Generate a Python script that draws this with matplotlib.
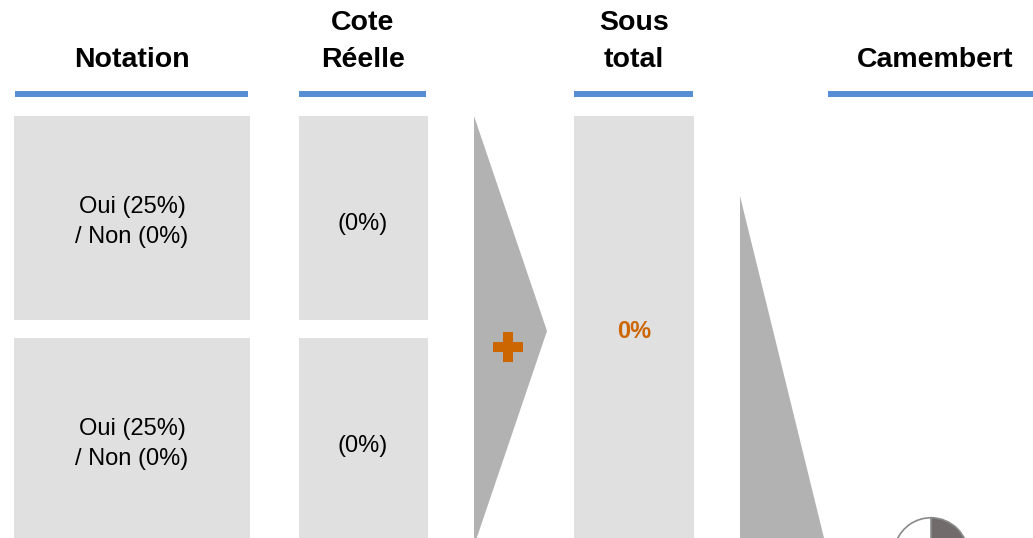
import matplotlib
matplotlib.use("Agg")
import matplotlib.pyplot as plt
from matplotlib.patches import Rectangle, Polygon

plt.rcParams['font.family'] = ['Liberation Sans', 'DejaVu Sans']

# ---- data ----
headers = [["Notation"], ["Cote", "Réelle"], ["Sous", "total"], ["Camembert"]]
notation_rows = [["Oui (25%)", "/ Non (0%)"], ["Oui (25%)", "/ Non (0%)"]]
cote_rows = ["(0%)", "(0%)"]
sous_total = "0%"
pie_values = [25, 75]
pie_colors = ["#716b6b", "#ffffff"]

# ---- layout (pixels) ----
W, H = 1033, 538
fig = plt.figure(figsize=(W / 100, H / 100), dpi=100)
ax = fig.add_axes([0, 0, 1, 1])
ax.set_xlim(0, W)
ax.set_ylim(H, 0)
ax.axis('off')

BOX = '#e0e0e0'
ARROW = '#b2b2b2'
BLUE = '#558ed5'
ORANGE = '#cc6600'

# header columns: (center x, line x0, line x1)
cols = [(132, 15, 248), (363, 299, 426), (634, 574, 693), (935, 828, 1033)]
for (cx, x0, x1), lines in zip(cols, headers):
    base = 67
    for i, ln in enumerate(reversed(lines)):
        ax.text(cx, base - 37 * i, ln, ha='center', va='baseline',
                fontsize=20.5, fontweight='bold', color='black')
    ax.plot([x0, x1], [94, 94], color=BLUE, lw=4.3, solid_capstyle='butt')

# boxes
row_y = [(116, 320), (338, 560)]
for (y0, y1) in row_y:
    ax.add_patch(Rectangle((14, y0), 236, y1 - y0, color=BOX, lw=0))
    ax.add_patch(Rectangle((299, y0), 129, y1 - y0, color=BOX, lw=0))
ax.add_patch(Rectangle((574, 116), 120, 460, color=BOX, lw=0))

# notation texts
for k, (l1, l2) in enumerate(notation_rows):
    off = 222 * k
    ax.text(132, 213 + off, l1, ha='center', va='baseline', fontsize=17)
    ax.text(132, 243 + off, l2, ha='center', va='baseline', fontsize=17)
for k, t in enumerate(cote_rows):
    ax.text(363, 230 + 222 * k, t, ha='center', va='baseline', fontsize=17)

ax.text(634, 338, sous_total, ha='center', va='baseline', fontsize=17,
        fontweight='bold', color=ORANGE)

# chevron arrow
ax.add_patch(Polygon([(474, 116), (547, 331), (474, 546)], closed=True,
                     color=ARROW, lw=0))
ax.plot([508], [347], marker='P', markersize=22, color=ORANGE, mew=0)

# second triangle
ax.add_patch(Polygon([(740, 196), (824, 538), (740, 538)], closed=True,
                     color=ARROW, lw=0))

# pie (partially below the figure edge)
cx, cy, r = 931, 555, 38
pax = fig.add_axes([(cx - r) / W, (H - cy - r) / H, 2 * r / W, 2 * r / H])
pax.pie(pie_values, colors=pie_colors, startangle=90, counterclock=False,
        radius=1, wedgeprops=dict(edgecolor='#8a8a8a', linewidth=1.2))
pax.set_xlim(-1.02, 1.02)
pax.set_ylim(-1.02, 1.02)
pax.set_aspect('auto')
pax.axis('off')

fig.savefig('out.png', dpi=100)
